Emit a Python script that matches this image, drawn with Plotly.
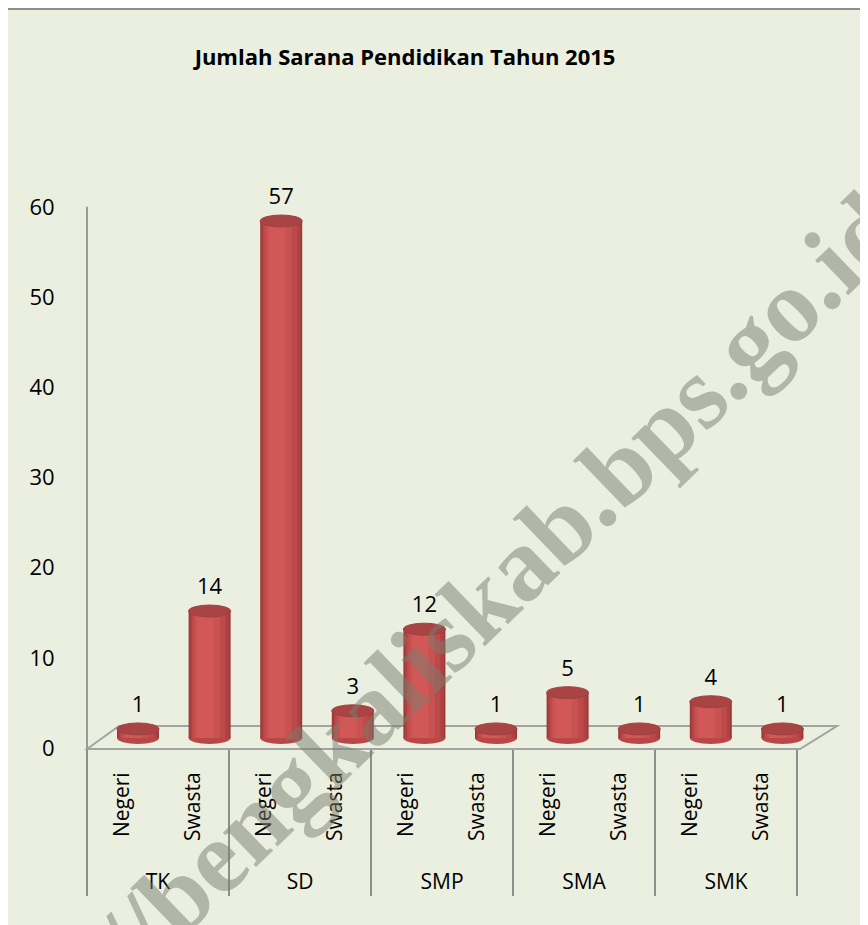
import plotly.graph_objects as go

# ---------------- data ----------------
groups = ["TK", "SD", "SMP", "SMA", "SMK"]
status = ["Negeri", "Swasta"]
values = [1, 14, 57, 3, 12, 1, 5, 1, 4, 1]          # Negeri/Swasta per group
y_ticks = [0, 10, 20, 30, 40, 50, 60]
title_text = "Jumlah Sarana Pendidikan Tahun 2015"
watermark = "http://bengkaliskab.bps.go.id"

# ---------------- geometry helpers ----------------
# the page body has an 8px margin, so the figure starts at (8, 8) of the window
OX, OY = 8, 8
WIN_W, WIN_H = 868, 925
W, H = WIN_W - OX, WIN_H - OY
L, R, T, B = 87 - OX, 8, 150 - OY, 176
PW, PH = W - L - R, H - T - B
def px(p):  # window pixel x -> paper
    return (p - OX - L) / PW
def py(p):  # window pixel y -> paper
    return (WIN_H - B - p) / PH

n = len(values)
xpos = list(range(n))
inner_labels = [status[i % 2] for i in range(n)]
group_centers = [2 * g + 0.5 for g in range(len(groups))]
boundaries = [2 * g - 0.5 for g in range(len(groups) + 1)]

BG = "#EBEFDF"
fig = go.Figure()

# cylinder body: overlayed bars of decreasing width
BW = 0.587
layers = [(1.00, 0.00, "#9C3939"), (0.92, 0.00, "#AE4242"), (0.80, 0.02, "#BD4A4A"),
          (0.62, 0.06, "#C85151"), (0.40, 0.10, "#D25858")]
for f, sh, col in layers:
    w = f * BW
    fig.add_trace(go.Bar(x=xpos, y=values, width=[w] * n, offset=[-w / 2 - sh * BW] * n,
                         marker=dict(color=col, line=dict(width=0)),
                         xaxis="x2", yaxis="y2", showlegend=False, hoverinfo="skip"))

# data labels
fig.add_trace(go.Scatter(x=xpos, y=[v + 2.45 for v in values], text=[str(v) for v in values],
                         mode="text", textposition="middle center",
                         textfont=dict(size=22, color="black", family="Open Sans"),
                         xaxis="x2", yaxis="y2", showlegend=False, hoverinfo="skip"))

# dummy traces so label axes are drawn
for xa in ["x", "x3", "x4"]:
    fig.add_trace(go.Scatter(x=[0], y=[-100], mode="markers", marker=dict(opacity=0),
                             xaxis=xa, yaxis="y", showlegend=False, hoverinfo="skip"))

shapes = []
# frame / chart area
shapes.append(dict(type="rect", xref="paper", yref="paper", x0=px(7), x1=px(890), y0=py(950), y1=py(9),
                   fillcolor=BG, line=dict(color="#8E8E8E", width=2), layer="below"))
# floor
shapes.append(dict(type="path", xref="paper", yref="paper",
                   path=f"M {px(87)} {py(749)} L {px(119)} {py(726)} L {px(837)} {py(726)} L {px(800)} {py(749)} Z",
                   line=dict(color="#A3A3A3", width=2), fillcolor="rgba(0,0,0,0)", layer="below"))
# value axis wall edge
shapes.append(dict(type="line", xref="paper", yref="y", x0=0, x1=0, y0=-0.11, y1=60,
                   line=dict(color="#9A9A9A", width=2), layer="below"))
EH = 0.66
for i, v in enumerate(values):
    # rounded bottom
    shapes.append(dict(type="circle", xref="x2", yref="y2", x0=i - BW / 2, x1=i + BW / 2,
                       y0=-EH, y1=EH, fillcolor="#B84747", line=dict(width=0), layer="below"))
    # top face
    shapes.append(dict(type="circle", xref="x2", yref="y2", x0=i - BW / 2, x1=i + BW / 2,
                       y0=v - EH, y1=v + EH, fillcolor="#A94444",
                       line=dict(color="#A03F3F", width=1), layer="above"))

fig.update_layout(
    width=W, height=H,
    margin=dict(l=L, r=R, t=T, b=B, pad=0),
    paper_bgcolor="white", plot_bgcolor="rgba(0,0,0,0)",
    barmode="overlay",
    font=dict(family="Open Sans", color="black"),
    title=dict(text=f"<b>{title_text}</b>", x=(405 - OX) / W, xanchor="center",
               y=1 - (57 - OY) / H, yanchor="middle",
               font=dict(size=22, family="Open Sans", color="black")),
    xaxis=dict(range=[-0.5, -0.5 + PW / 71], tickvals=boundaries, showticklabels=False,
               ticks="outside", ticklen=146, tickcolor="#8E8E8E", tickwidth=2,
               showgrid=False, zeroline=False, showline=False, anchor="y"),
    xaxis2=dict(range=[(87 - 138) / 71.6, (WIN_W - R - 138) / 71.6], visible=False,
                overlaying="x", anchor="y2"),
    xaxis3=dict(range=[-0.5, -0.5 + PW / 71], tickvals=xpos, ticktext=inner_labels, tickangle=-90,
                ticks="outside", ticklen=14, tickcolor="rgba(0,0,0,0)",
                tickfont=dict(size=21, color="black"),
                showgrid=False, zeroline=False, showline=False, overlaying="x", anchor="y"),
    xaxis4=dict(range=[-0.5, -0.5 + PW / 71], tickvals=group_centers, ticktext=groups,
                ticks="outside", ticklen=114, tickcolor="rgba(0,0,0,0)",
                tickfont=dict(size=21, color="black"),
                showgrid=False, zeroline=False, showline=False, overlaying="x", anchor="y"),
    yaxis=dict(range=[-1 / 9.05, (750 - 150) / 9.05], tickvals=y_ticks,
               ticks="outside", ticklen=27, tickcolor="rgba(0,0,0,0)",
               tickfont=dict(size=22, color="black"),
               showgrid=False, zeroline=False, showline=False, anchor="x"),
    yaxis2=dict(range=[-(749 - 738) / 9.07, (738 - 150) / 9.07], visible=False,
                overlaying="y", anchor="x2"),
    shapes=shapes,
    annotations=[dict(text=f"<b>{watermark}</b>", xref="paper", yref="paper",
                      x=px(420), y=py(660), xanchor="center", yanchor="middle",
                      textangle=-44, showarrow=False,
                      font=dict(family="Liberation Serif", size=104, color="rgba(120,125,110,0.5)"))],
)

fig.write_html("out.html")
